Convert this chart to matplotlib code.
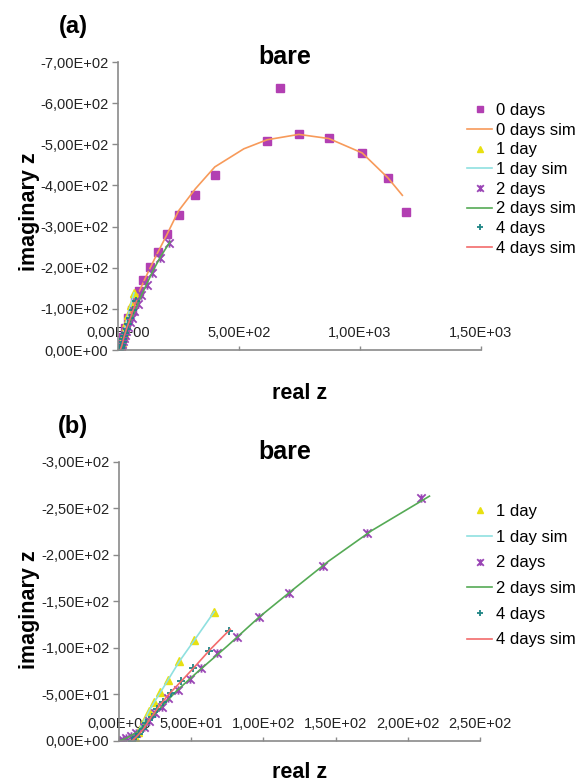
import matplotlib
matplotlib.use("Agg")
import matplotlib.pyplot as plt
from matplotlib.path import Path
from matplotlib.ticker import FixedLocator, FuncFormatter

plt.rcParams['font.family'] = ['Liberation Sans', 'DejaVu Sans']

# Impedance data (real z, imaginary z magnitude), plotted as negative imaginary part
day0_re = [11, 19, 29, 43, 57, 70, 88, 104, 133, 164, 203, 254, 318, 399, 616, 671, 747, 871, 1009, 1116, 1192]
day0_im = [12, 32, 53, 78, 97, 121, 144, 170, 202, 239, 282, 328, 376, 425, 507, 638, 526, 515, 479, 418, 335]
sim0_re = [0, 10, 25, 45, 70, 95, 125, 160, 200, 250, 320, 400, 520, 616, 747, 871, 1009, 1116, 1175]
sim0_im = [0, 15, 45, 80, 118, 152, 190, 232, 278, 338, 392, 445, 489, 511, 524, 514, 479, 418, 376]

day1_re = [8.8, 11, 13, 15.7, 18, 20.5, 24, 28.5, 34, 41.5, 52, 66]
day1_im = [1, 4.6, 10, 17, 24, 32, 42, 53, 66, 86, 109, 139]
sim1_re = [8.5, 11, 13.5, 16, 18.5, 21, 24.5, 29, 34.5, 42, 52.5, 66]
sim1_im = [0, 5, 11, 18, 25, 33, 42, 53, 67, 86, 109, 139]

day2_re = [1, 3, 5, 8, 12, 17, 21, 25, 29.5, 34, 41, 49, 57, 68, 82, 97, 118, 141, 172, 209]
day2_im = [0.5, 1.5, 3, 5, 9, 15, 22, 30, 37, 46, 55, 67, 78, 94, 112, 133, 159, 188, 223, 261]
sim2_re = [0, 5, 12, 20, 29, 40, 55, 75, 97, 120, 145, 175, 215]
sim2_im = [0, 3, 9, 21, 36, 54, 75, 102, 133, 162, 193, 226, 263]

day4_re = [9, 12, 14, 16.4, 19, 22.6, 26, 30.7, 36, 43, 51.4, 62, 76]
day4_im = [0, 4, 7.5, 12.5, 19, 26, 34, 42, 52, 64, 78.5, 97, 118]
sim4_re = [9, 13, 17, 22, 28, 35, 43, 52, 63, 77]
sim4_im = [0, 6, 13, 25, 38, 51, 64, 79, 98, 120]

# excel-like "star" marker: an x with a vertical bar
star = Path([(-1, -1), (1, 1), (-1, 1), (1, -1), (0, -1), (0, 1)],
            [Path.MOVETO, Path.LINETO, Path.MOVETO, Path.LINETO, Path.MOVETO, Path.LINETO])

W, H = 579, 784
fig = plt.figure(figsize=(W / 100, H / 100), dpi=100)

sci = FuncFormatter(lambda v, p: f"{v:.2E}".replace('.', ','))
neg = lambda vals: [-v for v in vals]


def style_axes(ax, xticks, yticks):
    ax.set_xlim(xticks[0], xticks[-1])
    ax.set_ylim(0, yticks[-1])
    ax.xaxis.set_major_locator(FixedLocator(xticks))
    ax.yaxis.set_major_locator(FixedLocator(yticks))
    ax.xaxis.set_major_formatter(sci)
    ax.yaxis.set_major_formatter(sci)
    for s in ['top', 'right']:
        ax.spines[s].set_visible(False)
    for s in ['left', 'bottom']:
        ax.spines[s].set_color('#8a8a8a')
        ax.spines[s].set_linewidth(1.2)
    ax.tick_params(axis='y', direction='out', length=4, width=1, color='#8a8a8a',
                   labelsize=10.5, labelcolor='#222222', pad=3)
    ax.tick_params(axis='x', direction='in', length=3, width=1, color='#8a8a8a',
                   labelsize=10.5, labelcolor='#222222', pad=-17)
    ax.set_facecolor('none')


def draw_series(ax, with_day0):
    if with_day0:
        ax.plot(day0_re, neg(day0_im), ls='none', marker='s', ms=5.5, color='#B23FB2', label='0 days')
        ax.plot(sim0_re, neg(sim0_im), color='#F79A5A', lw=1.2, label='0 days sim')
    ax.plot(day1_re, neg(day1_im), ls='none', marker='^', ms=6, color='#E8E010', label='1 day')
    ax.plot(sim1_re, neg(sim1_im), color='#8FE0E0', lw=1.2, label='1 day sim')
    ax.plot(day2_re, neg(day2_im), ls='none', marker=star, ms=6, mew=1.3, color='#9A45B5',
            mec='#9A45B5', label='2 days')
    ax.plot(sim2_re, neg(sim2_im), color='#55AA55', lw=1.2, label='2 days sim')
    ax.plot(day4_re, neg(day4_im), ls='none', marker='+', ms=6, mew=1.3, color='#1F8585', label='4 days')
    ax.plot(sim4_re, neg(sim4_im), color='#F26B6B', lw=1.2, label='4 days sim')


# panel (a)
ax_a = fig.add_axes([118 / W, 1 - 350 / H, (481 - 118) / W, (350 - 62) / H])
style_axes(ax_a, [0, 500, 1000, 1500], [0, -100, -200, -300, -400, -500, -600, -700])
draw_series(ax_a, True)
ax_a.legend(loc='upper left', bbox_to_anchor=(467 / W, 1 - 103 / H), bbox_transform=fig.transFigure,
            frameon=False, fontsize=12, borderpad=0, borderaxespad=0, labelspacing=0.28,
            handlelength=1.5, handletextpad=0.24, markerscale=0.8)

# panel (b)
ax_b = fig.add_axes([119 / W, 1 - 741 / H, (480 - 119) / W, (741 - 461.7) / H])
style_axes(ax_b, [0, 50, 100, 150, 200, 250], [0, -50, -100, -150, -200, -250, -300])
draw_series(ax_b, False)
ax_b.legend(loc='upper left', bbox_to_anchor=(467 / W, 1 - 504 / H), bbox_transform=fig.transFigure,
            frameon=False, fontsize=12, borderpad=0, borderaxespad=0, labelspacing=0.64,
            handlelength=1.5, handletextpad=0.24, markerscale=0.8)

# titles and axis labels
for lab, ylab, ybare in [('(a)', 26, 57), ('(b)', 427, 452)]:
    fig.text(73 / W, 1 - ylab / H, lab, fontsize=17, fontweight='bold', ha='center', va='center')
    fig.text(285 / W, 1 - ybare / H, 'bare', fontsize=18, fontweight='bold', ha='center', va='center')

for yc, yr in [(212, 393), (610, 772)]:
    fig.text(30 / W, 1 - yc / H, 'imaginary z', fontsize=15.5, fontweight='bold', rotation=90,
             ha='center', va='center')
    fig.text(300 / W, 1 - yr / H, 'real z', fontsize=15.5, fontweight='bold', ha='center', va='center')

fig.savefig('out.png', dpi=100)
